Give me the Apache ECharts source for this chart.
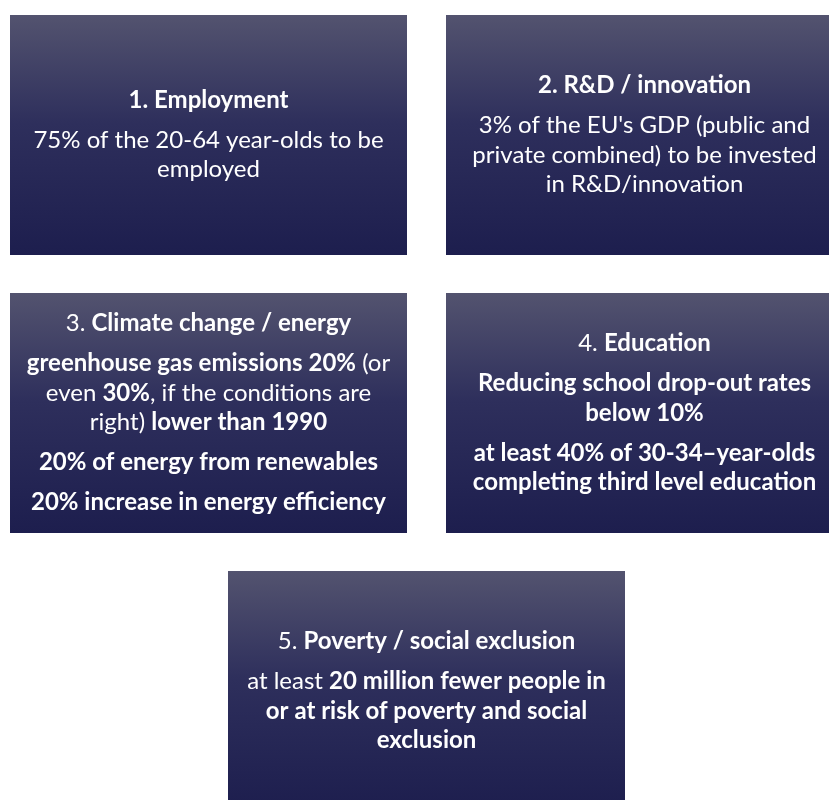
<!DOCTYPE html>
<html>
<head>
<meta charset="utf-8">
<script src="https://cdn.jsdelivr.net/npm/echarts@6/dist/echarts.min.js"></script>
<style>
  html, body { margin: 0; padding: 0; background: #fff; }
  #main { width: 829px; height: 800px; }
</style>
</head>
<body>
<div id="main"></div>
<script>
// box contents: each box is a list of paragraphs, each paragraph a list of lines
// {b|..} = bold, {r|..} = regular
const box1 = [
  ['{b|1. Employment}'],
  ['{r|75% of the 20-64 year-olds to be}', '{r|employed}']
]
const box2 = [
  ['{b|2. R&D / innovation}'],
  ['{r|3% of the EU\'s GDP (public and}', '{r|private combined) to be invested}', '{r|in R&D/innovation}']
]
const box3 = [
  ['{r|3. }{b|Climate change / energy}'],
  ['{b|greenhouse gas emissions 20%}{r| (or}', '{r|even }{b|30%}{r|, if the conditions are}', '{r|right) }{b|lower than 1990}'],
  ['{b|20% of energy from renewables}'],
  ['{b|20% increase in energy efficiency}']
]
const box4 = [
  ['{r|4. }{b|Education}'],
  ['{b|Reducing school drop-out rates}', '{b|below 10%}'],
  ['{b|at least 40% of 30-34\u2013year-olds}', '{b|completing third level education}']
]
const box5 = [
  ['{r|5. }{b|Poverty / social exclusion}'],
  ['{r|at least }{b|20 million fewer people in}', '{b|or at risk of poverty and social}', '{b|exclusion}']
]

const boxes = [
  { x: 10, y: 15, content: box1 },
  { x: 446, y: 15, content: box2 },
  { x: 10, y: 293, content: box3 },
  { x: 446, y: 293, content: box4 },
  { x: 228, y: 571, content: box5 }
]

const boxW = 397
const boxH = 240
const lineGap = 29.5
const paraGap = 40

const font = 'Lato, "Open Sans", sans-serif'
const fontSize = 24
const rich = {
  b: { fontFamily: font, fontSize: fontSize, fontWeight: 'bold', fill: '#ffffff' },
  r: { fontFamily: font, fontSize: fontSize, fontWeight: 'normal', fill: '#ffffff' }
}

const elements = []
boxes.forEach(box => {
  elements.push({
    type: 'rect',
    shape: { x: box.x, y: box.y, width: boxW, height: boxH },
    style: {
      fill: new echarts.graphic.LinearGradient(0, 0, 0, 1, [
        { offset: 0, color: '#53536f' },
        { offset: 0.45, color: '#2e2f5c' },
        { offset: 1, color: '#1d1e4e' }
      ])
    }
  })
  // vertical positions of each line, block centered in the box
  const ys = []
  let y = 0
  box.content.forEach((para, pi) => {
    para.forEach((line, li) => {
      if (pi > 0 || li > 0) y += (li === 0 ? paraGap : lineGap)
      ys.push({ line, y })
    })
  })
  const offset = box.y + boxH / 2 - y / 2
  ys.forEach(item => {
    elements.push({
      type: 'text',
      x: box.x + boxW / 2,
      y: offset + item.y,
      style: {
        text: item.line,
        rich: rich,
        fill: '#ffffff',
        font: fontSize + 'px ' + font,
        align: 'center',
        verticalAlign: 'middle'
      }
    })
  })
})

const chart = echarts.init(document.getElementById('main'))
chart.setOption({
  animation: false,
  graphic: { elements: elements }
})
</script>
</body>
</html>
